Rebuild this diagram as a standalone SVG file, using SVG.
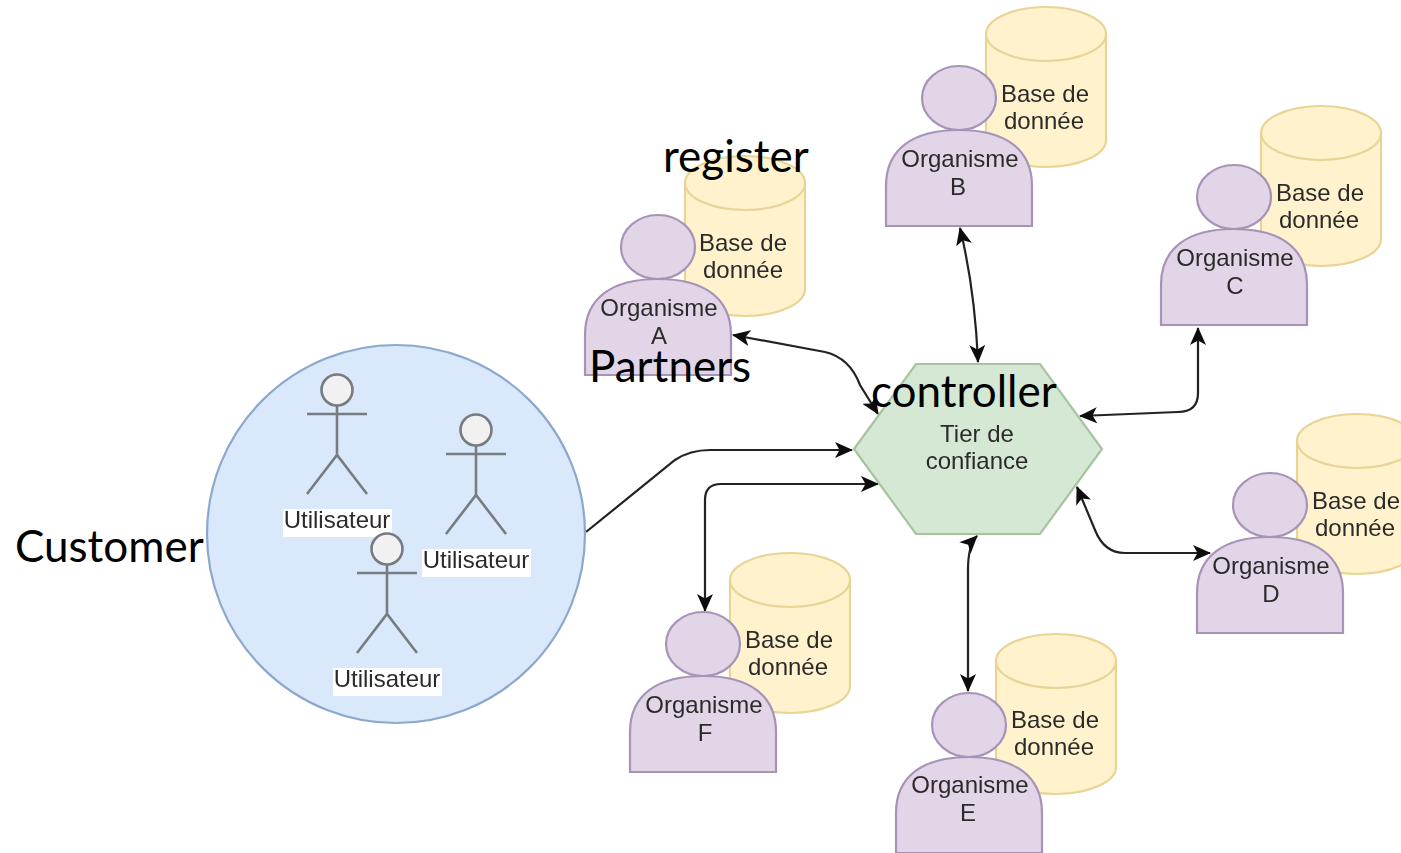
<svg xmlns="http://www.w3.org/2000/svg" xmlns:xlink="http://www.w3.org/1999/xlink" width="1401" height="853" viewBox="0 0 1401 853">
<style>
.t{font-family:"Liberation Sans",Arial,sans-serif;font-size:24px;fill:#2c2c2c;text-anchor:middle}
.big{font-family:Lato,"Open Sans",sans-serif;font-size:44px;fill:#000}
.cyl{fill:#fff2cc;stroke:#e8d596;stroke-width:2.2}
.per{fill:#e1d5e7;stroke:#a893b8;stroke-width:2.2}
.act{fill:none;stroke:#767b80;stroke-width:2.6}
.head{fill:#f1f1f1;stroke:#767b80;stroke-width:2.6}
.c{fill:none;stroke:#222;stroke-width:2.2}
.soft{filter:url(#soft)}
</style>
<defs>
<filter id="soft" x="-2%" y="-2%" width="104%" height="104%"><feGaussianBlur stdDeviation="0.55"/></filter>
<marker id="arr" viewBox="0 0 18 16" refX="17" refY="8" markerWidth="18" markerHeight="16" markerUnits="userSpaceOnUse" orient="auto-start-reverse"><path d="M0 0L18 8L0 16L4.5 8Z" fill="#111"/></marker>
<g id="org">
<path class="cyl" d="M685 183A60 27 0 0 1 805 183V289A60 27 0 0 1 685 289Z"/>
<path class="cyl" d="M685 183A60 27 0 0 0 805 183"/>
<ellipse class="per" cx="658" cy="247" rx="37" ry="32"/>
<path class="per" d="M585 375V335C585 298 612 279 658 279C704 279 731 298 731 335V375Z"/>
</g>
<g id="actor">
<circle class="head" cx="337" cy="390" r="15.5"/>
<path class="act" d="M337 406V455M307 414H367M307 494L337 455L367 494"/>
<rect x="283" y="509" width="109" height="28" fill="#fff"/>
</g>
</defs>
<rect width="1401" height="853" fill="#fff"/>
<g id="connectors" class="soft">
<path class="c" marker-start="url(#arr)" marker-end="url(#arr)" d="M733 335L825 352Q850 358 860 385L878 414"/>
<path class="c" marker-start="url(#arr)" marker-end="url(#arr)" d="M960 228Q975 290 978 362"/>
<path class="c" marker-start="url(#arr)" marker-end="url(#arr)" d="M1198 328V393Q1198 412 1178 412L1080 416"/>
<path class="c" marker-start="url(#arr)" marker-end="url(#arr)" d="M1077 487L1095 530Q1104 553 1125 553H1210"/>
<path class="c" marker-start="url(#arr)" marker-end="url(#arr)" d="M977 536Q968 545 968 570V691"/>
<path class="c" marker-start="url(#arr)" marker-end="url(#arr)" d="M705 611V500Q705 484 721 484H878"/>
<path class="c" marker-end="url(#arr)" d="M586 532L675 460Q690 450 710 450H852"/>
</g>
<g id="customer" class="soft">
<circle cx="396" cy="534" r="189" fill="#dae8fc" stroke="#8ca8cc" stroke-width="2.2"/>
<g id="user1"><use xlink:href="#actor" href="#actor"/><text class="t" x="337" y="528">Utilisateur</text></g>
<g id="user2" transform="translate(139 40)"><use xlink:href="#actor" href="#actor"/><text class="t" x="337" y="528">Utilisateur</text></g>
<g id="user3" transform="translate(50 159)"><use xlink:href="#actor" href="#actor"/><text class="t" x="337" y="528">Utilisateur</text></g>
</g>
<g id="hub" class="soft">
<path d="M854 449L916 364H1040L1102 449L1040 534H916Z" fill="#d5e8d4" stroke="#a6c49e" stroke-width="2.2"/>
<text class="t" x="977" y="442">Tier de</text>
<text class="t" x="977" y="469">confiance</text>
</g>
<g id="orgA" class="soft"><use xlink:href="#org" href="#org"/><text class="t" x="743" y="251">Base de</text><text class="t" x="743" y="278">donnée</text><text class="t" x="659" y="316">Organisme</text><text class="t" x="659" y="344">A</text></g>
<g id="orgB" class="soft" transform="translate(301 -149)"><use xlink:href="#org" href="#org"/><text class="t" x="744" y="251">Base de</text><text class="t" x="743" y="278">donnée</text><text class="t" x="659" y="316">Organisme</text><text class="t" x="657" y="344">B</text></g>
<g id="orgC" class="soft" transform="translate(576 -50)"><use xlink:href="#org" href="#org"/><text class="t" x="744" y="251">Base de</text><text class="t" x="743" y="278">donnée</text><text class="t" x="659" y="316">Organisme</text><text class="t" x="659" y="344">C</text></g>
<g id="orgD" class="soft" transform="translate(612 258)"><use xlink:href="#org" href="#org"/><text class="t" x="744" y="251">Base de</text><text class="t" x="743" y="278">donnée</text><text class="t" x="659" y="316">Organisme</text><text class="t" x="659" y="344">D</text></g>
<g id="orgE" class="soft" transform="translate(311 478)"><use xlink:href="#org" href="#org"/><text class="t" x="744" y="250">Base de</text><text class="t" x="743" y="277">donnée</text><text class="t" x="659" y="315">Organisme</text><text class="t" x="657" y="343">E</text></g>
<g id="orgF" class="soft" transform="translate(45 397)"><use xlink:href="#org" href="#org"/><text class="t" x="744" y="251">Base de</text><text class="t" x="743" y="278">donnée</text><text class="t" x="659" y="316">Organisme</text><text class="t" x="660" y="344">F</text></g>
<g id="labels">
<text class="big" x="663" y="172">register</text>
<text class="big" x="589" y="382">Partners</text>
<text class="big" x="871" y="407">controller</text>
<text class="big" x="15" y="562">Customer</text>
</g>
</svg>
